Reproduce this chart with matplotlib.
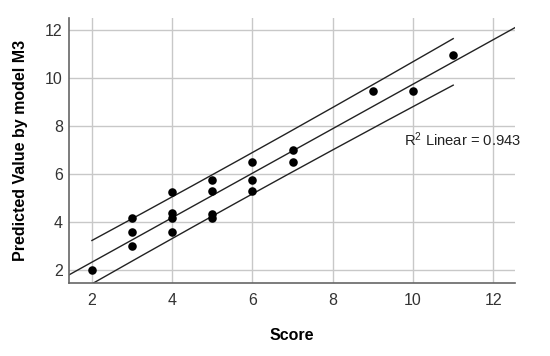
import numpy as np
import matplotlib
matplotlib.use("Agg")
import matplotlib.pyplot as plt

plt.rcParams['font.family'] = ['Liberation Sans', 'DejaVu Sans']
plt.rcParams['mathtext.fontset'] = 'custom'
plt.rcParams['mathtext.rm'] = 'Liberation Sans'
plt.rcParams['mathtext.it'] = 'Liberation Sans'

# Data
score = [2, 3, 3, 3, 4, 4, 4, 4, 5, 5, 5, 5, 6, 6, 6, 7, 7, 9, 10, 11]
predicted = [2.0, 4.15, 3.57, 2.99, 5.26, 4.36, 4.18, 3.57, 5.75, 5.29, 4.32, 4.15,
             6.49, 5.75, 5.29, 6.99, 6.49, 9.47, 9.47, 10.97]
x_ticks = [2, 4, 6, 8, 10, 12]
y_ticks = [2, 4, 6, 8, 10, 12]
r2_label = "R$^{2}$ Linear = 0.943"
band_mult = 1.42

x = np.array(score, dtype=float)
y = np.array(predicted, dtype=float)
slope, intercept = np.polyfit(x, y, 1)
n = len(x)
resid = y - (slope * x + intercept)
s = np.sqrt(np.sum(resid ** 2) / (n - 2))
sxx = np.sum((x - x.mean()) ** 2)

fig = plt.figure(figsize=(5.5, 3.56), dpi=100)
ax = fig.add_axes([0.1255, 0.2051, 0.8109, 0.7443])
xlim = (1.43, 12.54)
ylim = (1.46, 12.5)
ax.set_xlim(*xlim)
ax.set_ylim(*ylim)

ax.set_axisbelow(True)
ax.grid(True, color='#c8c8c8', linewidth=1.0)

xf = np.linspace(xlim[0], xlim[1], 200)
ax.plot(xf, slope * xf + intercept, color='#222222', lw=1.0, zorder=2)
xi = np.linspace(x.min(), x.max(), 200)
half = band_mult * s * np.sqrt(1 + 1 / n + (xi - x.mean()) ** 2 / sxx)
yi = slope * xi + intercept
ax.plot(xi, yi + half, color='#222222', lw=1.0, zorder=2)
ax.plot(xi, yi - half, color='#222222', lw=1.0, zorder=2)

ax.scatter(x, y, s=38, color='black', zorder=3, linewidths=0)

ax.text(9.78, 7.42, r2_label, fontsize=10.6, va='center', ha='left', color='#222222')

ax.set_xticks(x_ticks)
ax.set_yticks(y_ticks)
ax.tick_params(axis='both', length=0, labelsize=11.5, colors='#333333')
ax.tick_params(axis='x', pad=7)
ax.tick_params(axis='y', pad=4.5)

for sp in ['top', 'right']:
    ax.spines[sp].set_visible(False)
for sp in ['left', 'bottom']:
    ax.spines[sp].set_color('#666666')
    ax.spines[sp].set_linewidth(1.2)

ax.set_xlabel('Score', fontsize=11.5, fontweight='bold')
ax.set_ylabel('Predicted Value by model M3', fontsize=11.5, fontweight='bold')
ax.xaxis.set_label_coords(0.5, -0.199)
ax.xaxis.label.set_va('center')
ax.yaxis.set_label_coords(-0.108, 0.5)
ax.yaxis.label.set_va('center')

fig.savefig('out.png', dpi=100)
